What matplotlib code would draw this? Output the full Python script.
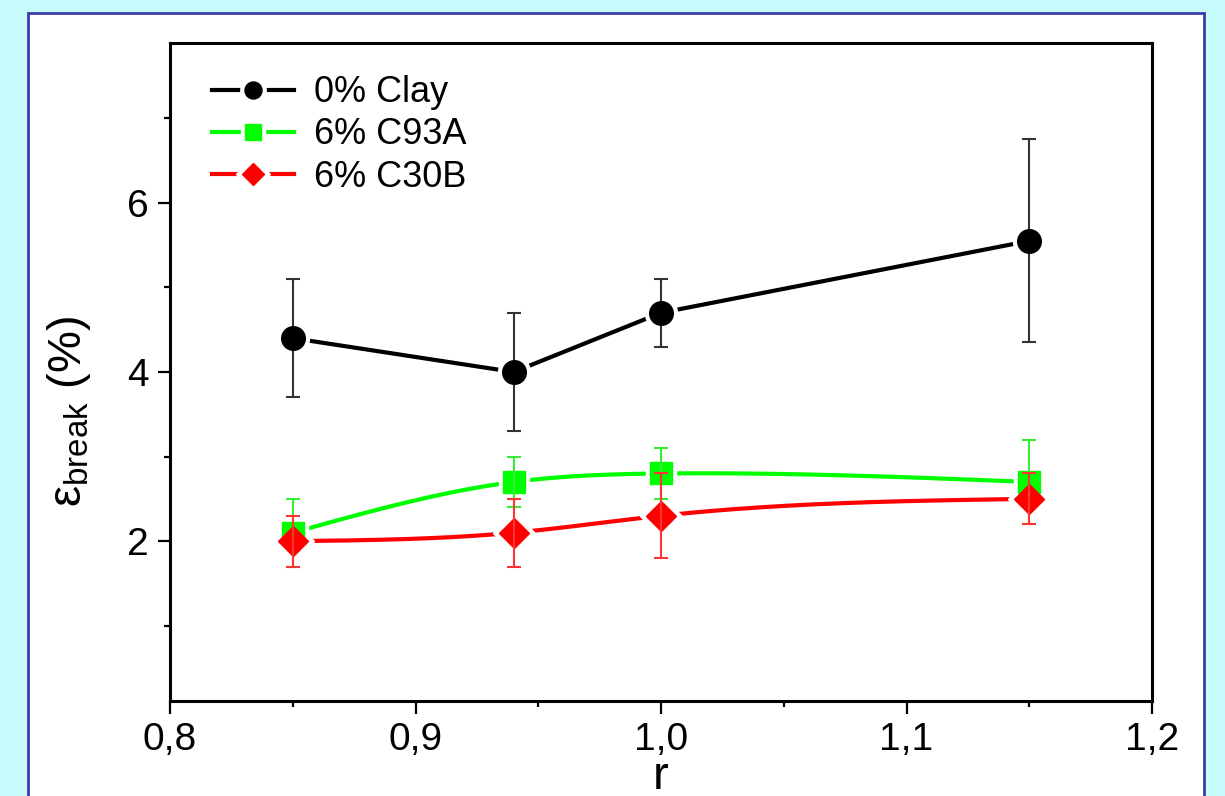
import numpy as np
import matplotlib
matplotlib.use("Agg")
import matplotlib.pyplot as plt
from matplotlib.patches import Rectangle
from matplotlib.lines import Line2D
from matplotlib.legend_handler import HandlerTuple
from matplotlib.ticker import MultipleLocator, FuncFormatter

plt.rcParams["font.family"] = ["Liberation Sans", "DejaVu Sans"]
plt.rcParams["mathtext.fontset"] = "custom"
plt.rcParams["mathtext.rm"] = "Liberation Sans"
plt.rcParams["mathtext.it"] = "Liberation Sans"

# r values and elongation at break (%) with standard deviations
r = [0.85, 0.94, 1.00, 1.15]

clay0 = [4.4, 4.0, 4.7, 5.55]
clay0_err = [0.7, 0.7, 0.4, 1.2]

c93a = [2.1, 2.7, 2.8, 2.7]
c93a_err = [0.4, 0.3, 0.3, 0.5]

c30b = [2.0, 2.1, 2.3, 2.5]
c30b_err = [0.3, 0.4, 0.5, 0.3]

labels = ["0% Clay", "6% C93A", "6% C30B"]
colors = ["black", "#00ff00", "#ff0000"]
markers = ["o", "s", "D"]
msizes = [17, 16, 15.5]


def natural_spline(x, y, n=200):
    # natural cubic spline through the measured points (smooth connector)
    x = np.asarray(x, float)
    y = np.asarray(y, float)
    k = len(x)
    h = np.diff(x)
    A = np.zeros((k, k))
    b = np.zeros(k)
    A[0, 0] = A[-1, -1] = 1
    for i in range(1, k - 1):
        A[i, i - 1] = h[i - 1]
        A[i, i] = 2 * (h[i - 1] + h[i])
        A[i, i + 1] = h[i]
        b[i] = 6 * ((y[i + 1] - y[i]) / h[i] - (y[i] - y[i - 1]) / h[i - 1])
    M = np.linalg.solve(A, b)
    xs = np.linspace(x[0], x[-1], n)
    idx = np.clip(np.searchsorted(x, xs) - 1, 0, k - 2)
    x0, x1 = x[idx], x[idx + 1]
    hh = x1 - x0
    t0 = x1 - xs
    t1 = xs - x0
    ys = (M[idx] * t0 ** 3 + M[idx + 1] * t1 ** 3) / (6 * hh) \
        + (y[idx] / hh - M[idx] * hh / 6) * t0 \
        + (y[idx + 1] / hh - M[idx + 1] * hh / 6) * t1
    return xs, ys


fig = plt.figure(figsize=(12.25, 7.96), dpi=100)
fig.patch.set_facecolor("#c8fcfc")
fig.patches.append(Rectangle((28 / 1225, -0.05), (1204 - 28) / 1225, (796 - 13) / 796 + 0.05,
                             transform=fig.transFigure, facecolor="white",
                             edgecolor="#3c3caa", linewidth=2, zorder=0))

ax = fig.add_axes([170 / 1225, 1 - 701 / 796, (1152 - 170) / 1225, (701 - 43) / 796])
ax.set_zorder(2)
ax.set_facecolor("white")

series = [clay0, c93a, c30b]
errs = [clay0_err, c93a_err, c30b_err]
err_colors = ["#333333", "#33ee33", "#ff3333"]

for i, (y, e) in enumerate(zip(series, errs)):
    c = colors[i]
    if i == 0:
        ax.plot(r, y, color=c, lw=3, zorder=2)
    else:
        xs, ys = natural_spline(r, y)
        ax.plot(xs, ys, color=c, lw=3, zorder=2)
    # white halo leaves a small gap between line and marker
    ax.plot(r, y, ls="none", marker=markers[i], ms=msizes[i] + 6, color="white",
            mec="white", zorder=3 + i * 0.1)
    ax.plot(r, y, ls="none", marker=markers[i], ms=msizes[i], color=c, mec=c,
            zorder=4 + i * 0.1)
    ax.errorbar(r, y, yerr=e, fmt="none", ecolor=err_colors[i], elinewidth=1.5,
                capsize=5, capthick=1.5, zorder=3.5 if i == 0 else 5)

ax.set_xlim(0.8, 1.2)
ax.set_ylim(0.11, 7.89)
ax.xaxis.set_major_locator(MultipleLocator(0.1))
ax.xaxis.set_minor_locator(MultipleLocator(0.05))
ax.yaxis.set_major_locator(MultipleLocator(2))
ax.yaxis.set_minor_locator(MultipleLocator(1))
ax.xaxis.set_major_formatter(FuncFormatter(lambda v, p: f"{v:.1f}".replace(".", ",")))
ax.yaxis.set_major_formatter(FuncFormatter(lambda v, p: f"{v:.0f}"))

for s in ax.spines.values():
    s.set_linewidth(2.2)
ax.tick_params(which="major", direction="out", length=9, width=1.6, labelsize=28, pad=6)
ax.tick_params(which="minor", direction="out", length=4.5, width=1.6)
ax.tick_params(top=False, right=False)

ax.set_xlabel("r", fontsize=34, labelpad=-2)
ax.set_ylabel(r"$\mathrm{ε}_{\mathrm{break}}$ (%)", fontsize=34)
ax.yaxis.set_label_coords(-0.078, 0.44)

handles = []
for i in range(3):
    handles.append((Line2D([], [], color=colors[i], lw=3),
                    Line2D([], [], ls="none", marker=markers[i], ms=msizes[i] * 0.72 + 6,
                           color="white", mec="white"),
                    Line2D([], [], ls="none", marker=markers[i], ms=msizes[i] * 0.72,
                           color=colors[i], mec=colors[i])))
ax.legend(handles, labels, handler_map={tuple: HandlerTuple(ndivide=1, pad=0)},
          loc="upper left", bbox_to_anchor=(0.043, 0.951), borderaxespad=0, borderpad=0,
          frameon=False, fontsize=26, handlelength=2.27, handletextpad=0.55,
          labelspacing=0.2)

fig.savefig("out.png", dpi=100, facecolor=fig.get_facecolor())
